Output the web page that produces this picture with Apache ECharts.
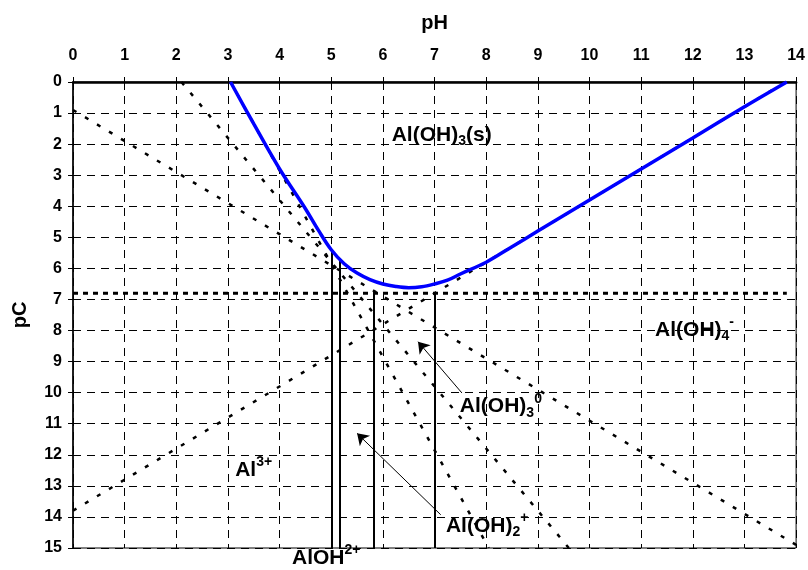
<!DOCTYPE html>
<html>
<head>
<meta charset="utf-8">
<script src="https://cdn.jsdelivr.net/npm/echarts@6/dist/echarts.min.js"></script>
<style>
  html, body { margin: 0; padding: 0; background: #fff; }
  #main { width: 808px; height: 570px; }
</style>
</head>
<body>
<div id="main"></div>
<script>
// Solubility of Al(OH)3(s): total dissolved Al (pC) versus pH

// Total dissolved aluminium (solid blue curve), [pH, pC]
const totalAl = [
  [3.05, 0], [3.5, 1.35], [4.0, 2.8], [4.5, 4.08], [4.75, 4.77], [5.0, 5.4],
  [5.25, 5.85], [5.5, 6.15], [5.75, 6.36], [6.0, 6.5], [6.25, 6.58], [6.5, 6.62],
  [6.75, 6.59], [7.0, 6.5], [7.25, 6.38], [7.5, 6.18], [8.0, 5.8], [8.5, 5.3],
  [9.0, 4.8], [10.0, 3.8], [11.0, 2.8], [12.0, 1.8], [13.0, 0.8], [13.82, 0]
];

// Individual species lines (dotted), endpoints [pH, pC]
const al3Line    = [[3.05, 0], [8.05, 15]];
const alOH2Line  = [[2.1, 0], [9.6, 15]];
const alOH2pLine = [[0, 0.9], [14, 14.9]];
const alOH4Line  = [[0, 13.8], [13.8, 0]];

// Neutral Al(OH)3 level (heavy dotted horizontal)
const alOH3aqLevel = 6.8;
const alOH3aqRange = [0, 13.82];

// Vertical marker lines: [pH, pC where the line starts]
const dropLines = [[5.01, 5.4], [5.16, 5.73], [5.83, 6.8], [7.0, 6.8]];

// Species labels: [pH, pC] anchor (left edge, vertical middle) and rich text
const speciesLabels = [
  { at: [6.17, 1.71],  text: 'Al(OH){sub|3}(s)' },
  { at: [11.27, 7.98], text: 'Al(OH){sub|4}{sup|-}' },
  { at: [7.49, 10.45], text: 'Al(OH){sub|3}{sup|0}' },
  { at: [7.22, 14.3],  text: 'Al(OH){sub|2}{sup|+}' },
  { at: [4.24, 15.32], text: 'AlOH{sup|2+}' },
  { at: [3.14, 12.48], text: 'Al{sup|3+}' }
];

// Pointer arrows: [tail, tip] in [pH, pC]
const pointerArrows = [
  [[7.53, 10.01], [6.68, 8.36]],
  [[7.12, 13.93], [5.50, 11.31]]
];

const FONT = 'Arial, "Liberation Sans", Helvetica, sans-serif';
const speciesStyle = { color: '#000', width: 2.5, type: [4, 10], cap: 'butt' };

const chart = echarts.init(document.getElementById('main'), null, { renderer: 'canvas' });

// Sub/superscripts sit at the bottom of a tall line box; padding lifts them
const richStyles = {
  main: { fontSize: 21, fontWeight: 'bold', fontFamily: FONT, color: '#000', lineHeight: 30 },
  sub:  { fontSize: 14, fontWeight: 'bold', fontFamily: FONT, color: '#000', lineHeight: 14,
          verticalAlign: 'bottom', padding: [0, 0, 2, 0] },
  sup:  { fontSize: 14, fontWeight: 'bold', fontFamily: FONT, color: '#000', lineHeight: 14,
          verticalAlign: 'bottom', padding: [0, 0, 16, 0] }
};

function speciesSeries(name, pts) {
  return {
    name: name, type: 'line', data: pts, symbol: 'none', silent: true,
    lineStyle: speciesStyle, z: 3
  };
}

chart.setOption({
  animation: false,
  backgroundColor: '#fff',
  grid: {
    left: 73, right: 9, top: 82, bottom: 22,
    show: true, borderColor: '#000', borderWidth: 1, backgroundColor: 'transparent'
  },
  xAxis: {
    type: 'value', position: 'top', min: 0, max: 14, interval: 1,
    name: 'pH', nameLocation: 'middle', nameGap: 49,
    nameTextStyle: { fontSize: 20, fontWeight: 'bold', color: '#000', fontFamily: FONT },
    axisLine: { show: true, onZero: false, lineStyle: { color: '#000', width: 2.5 } },
    axisTick: { show: true, length: 5, lineStyle: { color: '#000', width: 1 } },
    axisLabel: { fontSize: 16, fontWeight: 'bold', color: '#000', fontFamily: FONT, margin: 18 },
    splitLine: { show: true, lineStyle: { color: '#000', width: 1, type: [8, 6] } }
  },
  yAxis: {
    type: 'value', inverse: true, min: 0, max: 15, interval: 1,
    name: 'pC', nameLocation: 'middle', nameGap: 43, nameRotate: 90,
    nameTextStyle: { fontSize: 20, fontWeight: 'bold', color: '#000', fontFamily: FONT },
    axisLine: { show: true, onZero: false, lineStyle: { color: '#000', width: 1.5 } },
    axisTick: { show: true, length: 5, lineStyle: { color: '#000', width: 1 } },
    axisLabel: { fontSize: 16, fontWeight: 'bold', color: '#000', fontFamily: FONT, margin: 11 },
    splitLine: { show: true, lineStyle: { color: '#000', width: 1, type: [8, 6] } }
  },
  series: [
    speciesSeries('Al3+', al3Line),
    speciesSeries('AlOH2+', alOH2Line),
    speciesSeries('Al(OH)2+', alOH2pLine),
    speciesSeries('Al(OH)4-', alOH4Line),
    {
      name: 'Al(OH)3(aq)', type: 'line', symbol: 'none', silent: true, z: 3,
      data: alOH3aqRange.map(function (x) { return [x, alOH3aqLevel]; }),
      lineStyle: { color: '#000', width: 3, type: [5, 5], cap: 'butt' }
    },
    {
      name: 'markers', type: 'lines', coordinateSystem: 'cartesian2d', silent: true, z: 4,
      data: dropLines.map(function (d) { return { coords: [[d[0], d[1]], [d[0], 15]] }; }),
      lineStyle: { color: '#000', width: 2, opacity: 1, curveness: 0 },
      symbol: ['none', 'none']
    },
    {
      name: 'total', type: 'line', data: totalAl, symbol: 'none', smooth: 0.35, silent: true, z: 5,
      lineStyle: { color: '#0000ff', width: 3.5 }
    },
    {
      name: 'pointers', type: 'lines', coordinateSystem: 'cartesian2d', silent: true, z: 6,
      data: pointerArrows.map(function (a) { return { coords: a }; }),
      lineStyle: { color: '#000', width: 1, opacity: 1, curveness: 0 },
      symbol: ['none', 'arrow'], symbolSize: [8, 11]
    },
    {
      name: 'labels', type: 'scatter', silent: true, clip: false, z: 7,
      symbol: 'circle', symbolSize: 0, itemStyle: { color: '#000' },
      data: speciesLabels.map(function (l) {
        return {
          value: l.at,
          label: {
            show: true, position: 'right', distance: 0, color: '#000', opacity: 1,
            formatter: '{main|' + l.text.replace(/\{(sub|sup)\|([^}]*)\}/g, '}{$1|$2}{main|') + '}',
            rich: richStyles
          }
        };
      })
    }
  ]
});
</script>
</body>
</html>
